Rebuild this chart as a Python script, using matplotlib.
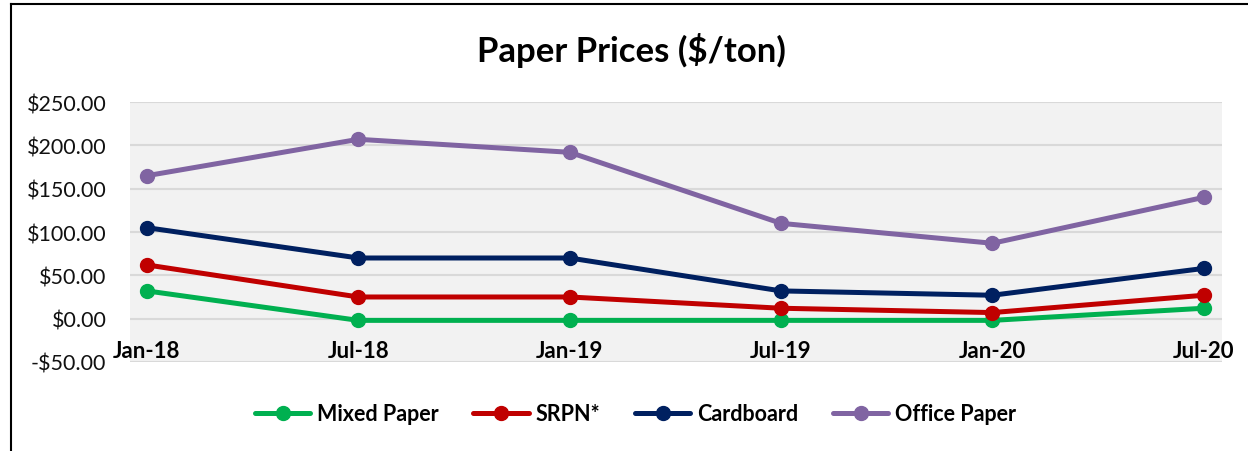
import matplotlib.pyplot as plt
from matplotlib.lines import Line2D
from matplotlib.ticker import FuncFormatter

plt.rcParams['font.family'] = ['Lato', 'DejaVu Sans']

# Data
dates = ['Jan-18', 'Jul-18', 'Jan-19', 'Jul-19', 'Jan-20', 'Jul-20']
mixed_paper = [32, -2, -2, -2, -2, 12]
srpn = [62, 25, 25, 12, 7, 27]
cardboard = [105, 70, 70, 32, 27, 58]
office_paper = [165, 207, 192, 110, 87, 140]

series = [
    ('Mixed Paper', mixed_paper, '#00B050'),
    ('SRPN*', srpn, '#C00000'),
    ('Cardboard', cardboard, '#002060'),
    ('Office Paper', office_paper, '#8064A2'),
]

fig = plt.figure(figsize=(12.48, 4.52), dpi=100)
ax = fig.add_axes([0.1042, 0.197, 0.979 - 0.1042, 0.772 - 0.197])
ax.set_facecolor('#F2F2F2')

x = list(range(len(dates)))
for name, vals, col in series:
    ax.plot(x, vals, color=col, lw=3.6, marker='o', ms=10, label=name,
            solid_capstyle='round')

ax.set_ylim(-50, 250)
ax.set_yticks(range(-50, 251, 50))
ax.yaxis.set_major_formatter(FuncFormatter(
    lambda v, p: f'-${abs(v):.2f}' if v < 0 else f'${v:.2f}'))
ax.set_xlim(-0.08, 5.085)
ax.set_xticks([])
ax.grid(axis='y', color='#D9D9D9', lw=1.5)
ax.set_axisbelow(True)
for s in ax.spines.values():
    s.set_visible(False)
ax.tick_params(axis='y', length=0, pad=17, labelsize=15.5, labelcolor='#111111')

# category labels sit inside the plot, just above the -50 gridline
for i, d in enumerate(dates):
    ax.text(i, -37, d, ha='center', va='center', fontsize=16, fontweight='bold')

fig.text(0.506, 0.888, 'Paper Prices ($/ton)', ha='center', va='center',
         fontsize=25, fontweight='bold')

fig.legend(loc='center', bbox_to_anchor=(0.509, 1 - 415 / 452), ncol=4,
           frameon=False, prop={'size': 15.5, 'weight': 'bold'},
           handlelength=2.6, columnspacing=1.6, handletextpad=0.3)

# chart border (left and top edges)
fig.add_artist(Line2D([11 / 1248, 11 / 1248], [0, 1 - 5 / 452], color='black', lw=1.5))
fig.add_artist(Line2D([11 / 1248, 1], [1 - 5 / 452, 1 - 5 / 452], color='black', lw=1.5))

fig.savefig('out.png', dpi=100)
